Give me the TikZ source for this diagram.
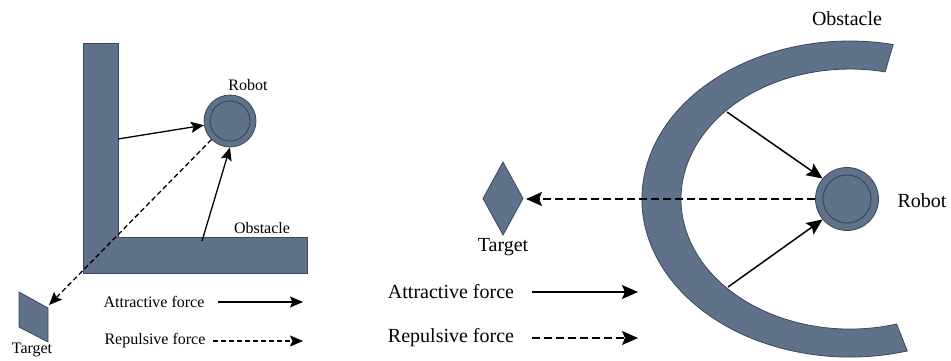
\documentclass[tikz,border=0pt]{standalone}
\usepackage{fontspec}
\setmainfont{Liberation Serif}
\usetikzlibrary{arrows.meta}
\definecolor{slate}{RGB}{95,114,137}
\definecolor{slateedge}{RGB}{58,72,92}
\begin{document}
\begin{tikzpicture}[x=1pt,y=-1pt,
  obst/.style={fill=slate,draw=slateedge,line width=0.8pt},
  robotbody/.style={circle,fill=slate,draw=slateedge,line width=0.8pt,inner sep=0pt},
  smalllbl/.style={font=\fontsize{16}{18}\selectfont,inner sep=0pt},
  biglbl/.style={font=\fontsize{20}{22}\selectfont,inner sep=0pt},
  forceL/.style={line width=1.3pt,-{Stealth[length=13pt,width=11pt,inset=2.5pt]}},
  repforceL/.style={forceL,dash pattern=on 5pt off 3pt},
  forceR/.style={line width=1.5pt,-{Stealth[length=16pt,width=14pt,inset=3pt]}},
  repforceR/.style={forceR,dash pattern=on 8pt off 4pt},
]
\useasboundingbox (0,0) rectangle (951,360);

% ---------- left scene: L-shaped wall ----------
\path[obst] (83,43) -- (118,43) -- (118,237) -- (307,237) -- (307,273) -- (83,273) -- cycle;
\node[smalllbl] (obstLlbl) at (262,228) {Obstacle};

% target (parallelogram)
\path[obst] (19,292) -- (48,308) -- (48,342) -- (19,327) -- cycle;
\node[smalllbl] (tgtLlbl) at (32,350) {Target};
\coordinate (tgtL) at (49,305);

% robot
\node[robotbody,minimum size=52pt] (robotL) at (230,121) {};
\draw[slateedge,line width=1pt] (robotL.center) circle[radius=20];
\node[smalllbl] (robotLlbl) at (248,85) {Robot};

% forces
\coordinate (wallL) at (118,139);
\coordinate (floorL) at (202,241);
\draw[forceL] (wallL) -- (robotL);
\draw[forceL] (floorL) -- (robotL.south);
\draw[repforceL] (robotL.225) -- (tgtL);

% legend
\node[smalllbl] (attL) at (154,302) {Attractive force};
\node[smalllbl] (repL) at (155,341) {Repulsive force};
\coordinate (attLa) at (218,302); \coordinate (attLb) at (303,302);
\coordinate (repLa) at (213,341); \coordinate (repLb) at (303,341);
\draw[forceL] (attLa) -- (attLb);
\draw[repforceL] (repLa) -- (repLb);

% ---------- right scene: C-shaped wall ----------
\path[obst] (893.2,44.5)
  arc[start angle=-78, end angle=-286, x radius=208, y radius=158]
  -- (896.6,324)
  arc[start angle=74, end angle=282, x radius=169, y radius=130]
  -- cycle;
\node[biglbl] (obstRlbl) at (847,19) {Obstacle};

% target (diamond)
\path[obst] (503,162) -- (523,198.5) -- (503,235) -- (483,198.5) -- cycle;
\node[biglbl] (tgtRlbl) at (503,247) {Target};
\coordinate (tgtR) at (526,199);

% robot
\node[robotbody,minimum size=63pt] (robotR) at (847,199) {};
\draw[slateedge,line width=1pt] (robotR.center) circle[radius=24];
\node[biglbl] (robotRlbl) at (922,201) {Robot};

% forces
\coordinate (arcTop) at (727,112);
\coordinate (arcBot) at (728,287);
\draw[forceR] (arcTop) -- (robotR.140);
\draw[forceR] (arcBot) -- (robotR.220);
\draw[repforceR] (robotR.west) -- (tgtR);

% legend
\node[biglbl] (attR) at (451,292) {Attractive force};
\node[biglbl] (repR) at (451,338) {Repulsive force};
\coordinate (attRa) at (532,292); \coordinate (attRb) at (638,292);
\coordinate (repRa) at (532,338); \coordinate (repRb) at (638,338);
\draw[forceR] (attRa) -- (attRb);
\draw[repforceR] (repRa) -- (repRb);
\end{tikzpicture}
\end{document}
